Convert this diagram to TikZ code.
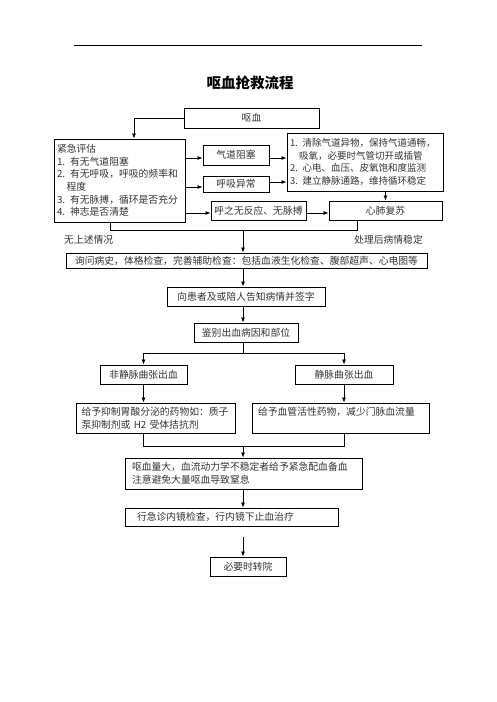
\documentclass[tikz,border=0pt]{standalone}
\usepackage{fontspec}
\setmainfont{Noto Sans CJK SC}
\usetikzlibrary{arrows.meta}
\begin{document}
\begin{tikzpicture}[x=1pt,y=-1pt,
  mybox/.style={draw=black, line width=0.9pt, inner sep=0pt, text=black!80,
    font=\fontsize{9.8}{12.7}\selectfont},
  lbl/.style={inner sep=0pt, text=black!80, font=\fontsize{9.8}{12.7}\selectfont},
  myarr/.style={line width=0.8pt, -{Latex[length=5pt,width=4pt]}},
  myline/.style={line width=0.8pt}]
\useasboundingbox (0,0) rectangle (496,702);
\draw[line width=1pt] (74,45) -- (422,45);
\node[inner sep=0pt, font=\fontsize{14.5}{17}\selectfont\bfseries] (title) at (250,83) {呕血抢救流程};
\coordinate (col) at (243,0);

\node[mybox, minimum width=135, minimum height=20] (ouxue) at (251.5,118) {呕血};
\node[mybox, minimum width=131, minimum height=83, text width=125, align=left] (pinggu) at (119.5,180.5)
  {紧急评估\\1. 有无气道阻塞\\2. 有无呼吸，呼吸的频率和\\\hspace*{9.5pt}程度\\3. 有无脉搏，循环是否充分\\4. 神志是否清楚};
\node[mybox, minimum width=66, minimum height=20] (qidao) at (236,155) {气道阻塞};
\node[mybox, minimum width=66, minimum height=16] (huxi) at (236,184) {呼吸异常};
\node[mybox, minimum width=95, minimum height=19] (hunzhi) at (258.5,210.5) {呼之无反应、无脉搏};
\node[mybox, minimum width=156, minimum height=58, text width=150, align=left,
  font=\fontsize{9.5}{12.7}\selectfont] (qiuzhi) at (365,162)
  {\mbox{1. 清除气道异物，保持气道通畅，}\\\hspace*{9pt}吸氧，必要时气管切开或插管\\2. 心电、血压、皮氧饱和度监测\\3. 建立静脉通路，维持循环稳定};
\node[mybox, minimum width=113, minimum height=19] (xinfei) at (385.5,210.5) {心肺复苏};

\draw[myarr] (ouxue.west) -| (pinggu.north -| 134,0);
\path ([yshift=-3pt]qidao.west) coordinate (a1) ([yshift=-3pt]qidao.east) coordinate (a1e);
\path ([yshift=-3pt]huxi.west) coordinate (a2) ([yshift=2pt]huxi.east) coordinate (a2e);
\path ([yshift=-2.5pt]hunzhi.west) coordinate (a3) ([yshift=-2.5pt]hunzhi.east) coordinate (a3e);
\draw[myarr] (pinggu.east |- a1) -- (a1);
\draw[myarr] (pinggu.east |- a2) -- (a2);
\draw[myarr] (pinggu.east |- a3) -- (a3);
\draw[myarr] (a1e) -- (qiuzhi.west |- a1e);
\draw[myarr] (a2e) -- (qiuzhi.west |- a2e);
\draw[myarr] (a3e) -- (xinfei.west |- a3e);
\draw[myarr] (qiuzhi.south -| xinfei.north) -- (xinfei.north);

\draw[myline] ([xshift=-9.5pt]pinggu.south) -- ++(0,8) coordinate (m1) -| ([xshift=-28.5pt]xinfei.south);
\node[lbl, anchor=west] (l1) at (64,240) {无上述情况};
\node[lbl, anchor=east] (l2) at (423,240) {处理后病情稳定};

\node[mybox, minimum width=361, minimum height=15] (xunwen) at (246.5,260.5)
  {询问病史，体格检查，完善辅助检查：包括血液生化检查、腹部超声、心电图等};
\draw[myarr] (m1 -| col) -- (xunwen.north -| col);
\node[mybox, minimum width=158, minimum height=19] (gaozhi) at (246,296.5) {向患者及或陪人告知病情并签字};
\draw[myarr] (xunwen.south -| col) -- (gaozhi.north -| col);
\node[mybox, minimum width=104, minimum height=19] (jianbie) at (246,332.5) {鉴别出血病因和部位};
\draw[myarr] (gaozhi.south -| col) -- (jianbie.north -| col);

\node[mybox, minimum width=87, minimum height=19] (feijing) at (143.5,374.5) {非静脉曲张出血};
\node[mybox, minimum width=98, minimum height=19] (jing) at (344,374.5) {静脉曲张出血};
\draw[myline] (jianbie.south -| col) -- ++(0,11) coordinate (s1);
\draw[myarr] (s1) -| (feijing.north);
\draw[myarr] (s1) -| (jing.north);

\node[mybox, minimum width=159, minimum height=30, text width=148, align=left] (yizhi) at (155.5,418)
  {给予抑制胃酸分泌的药物如：质子\\泵抑制剂或 H2 受体拮抗剂};
\node[mybox, minimum width=177, minimum height=30, text width=165, align=left] (xueguan) at (340.5,418)
  {给予血管活性药物，减少门脉血流量\\\mbox{}};
\draw[myarr] (feijing.south) -- (yizhi.north -| feijing.south);
\draw[myarr] (jing.south) -- (xueguan.north -| jing.south);

\draw[myline] (yizhi.south -| feijing.south) -- ++(0,13) coordinate (m2) -| (xueguan.south -| jing.south);
\node[mybox, minimum width=237, minimum height=31, text width=223, align=left] (liang) at (243.5,473.5)
  {呕血量大，血流动力学不稳定者给予紧急配血备血\\注意避免大量呕血导致窒息};
\draw[myarr] (m2 -| col) -- (liang.north -| col);
\node[mybox, minimum width=213, minimum height=18, text width=189, align=left] (jizhen) at (231.5,517)
  {行急诊内镜检查，行内镜下止血治疗};
\draw[myarr] (liang.south -| col) -- (jizhen.north -| col);
\node[mybox, minimum width=76, minimum height=19] (zhuanyuan) at (248,566.5) {必要时转院};
\coordinate (g) at (243,537);
\draw[myarr] (g) -- (zhuanyuan.north -| g);
\end{tikzpicture}
\end{document}
